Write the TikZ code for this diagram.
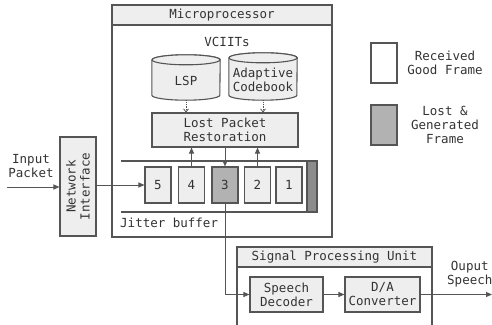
\documentclass[tikz,border=0pt]{standalone}
\usepackage{fontspec}
\setmainfont{DejaVu Sans Mono}
\usetikzlibrary{arrows.meta}
\definecolor{ln}{HTML}{555555}
\definecolor{lite}{HTML}{EEEEEE}
\definecolor{mid}{HTML}{B2B2B2}
\definecolor{darkbar}{HTML}{8C8C8C}
\definecolor{txt}{HTML}{333333}
\begin{document}
\begin{tikzpicture}[x=1pt,y=-1pt,
  font=\fontsize{12.5}{14}\selectfont, text=txt,
  box/.style={draw=ln, line width=1.1pt, fill=lite, align=center, inner sep=0pt},
  fr/.style={box, minimum width=26pt, minimum height=36pt},
  arr/.style={-{Triangle[length=6pt,width=5pt]}, draw=ln, line width=1pt},
  dotarr/.style={-{Straight Barb[length=3pt,width=5pt]}, draw=ln, line width=0.8pt, densely dotted},
  lbl/.style={align=center, inner sep=0pt}]
\useasboundingbox (0,0) rectangle (492,324);
\clip (0,0) rectangle (492,324);

% Microprocessor
\draw[draw=ln, line width=1.1pt, fill=white] (112,5) rectangle (332,237);
\draw[draw=ln, line width=1.1pt, fill=lite] (112,5) rectangle (332,25);
\node[lbl] (mptitle) at (222,15) {Microprocessor};
\node[lbl] (vciits) at (227,42) {VCIITs};

% cylinders
\node[lbl, minimum width=68pt, minimum height=45pt] (lsp) at (186,77.5) {};
\node[lbl, minimum width=68pt, minimum height=47pt] (acb) at (263,76.5) {};
\foreach \c in {lsp,acb}{
  \draw[draw=ln, line width=1.1pt, fill=lite]
    ([yshift=-5pt]\c.north west) -- ([yshift=5pt]\c.south west)
    arc[start angle=180, end angle=360, x radius=34pt, y radius=5pt]
    -- ([yshift=-5pt]\c.north east)
    arc[start angle=0, end angle=180, x radius=34pt, y radius=5pt];
  \draw[draw=ln, line width=1.1pt, fill=lite] ([yshift=-5pt]\c.north) ellipse[x radius=34pt, y radius=5pt];
}
\node[lbl] at ([yshift=-3pt]lsp.center) {LSP};
\node[lbl] at ([yshift=-3pt]acb.center) {Adaptive\\Codebook};

% Lost packet restoration
\node[box, minimum width=146pt, minimum height=34pt] (lpr) at (225,130) {Lost Packet\\Restoration};
\draw[dotarr] (lsp.south) -- (lsp.south |- lpr.north);
\draw[dotarr] (acb.south) -- (acb.south |- lpr.north);

% jitter buffer
\coordinate (jtl) at (121,161);
\coordinate (jbl) at (121,212);
\draw[draw=ln, line width=1.6pt] (jtl) -- (307,161);
\draw[draw=ln, line width=1.6pt] (jbl) -- (307,212);
\draw[draw=ln, line width=1.1pt, fill=darkbar] (307,161) rectangle (317,212);
\node[fr] (f5) at (158,185) {5};
\node[fr] (f4) at (191.5,185) {4};
\node[fr, fill=mid] (f3) at (225,185) {3};
\node[fr] (f2) at (257.5,185) {2};
\node[fr] (f1) at (289,185) {1};
\node[lbl, anchor=west] (jb) at (120,223) {Jitter buffer};

\draw[arr] (f4.north) -- (f4.north |- lpr.south);
\draw[arr] (f2.north) -- (f2.north |- lpr.south);
\draw[arr] (lpr.south -| f3.north) -- (f3.north);

% network interface
\node[box, minimum width=36pt, minimum height=99pt] (ni) at (78,186.5) {};
\node[lbl, rotate=90] at (ni.center) {Network\\Interface};
\coordinate (inp) at (7,187);
\node[lbl] (inlbl) at (31,166) {Input\\Packet};
\draw[arr] (inp) -- (inp -| ni.west);
\draw[arr] (ni.east |- f5.west) -- (f5.west);

% signal processing unit
\draw[draw=ln, line width=1.1pt, fill=white] (237,247) rectangle (432,330);
\draw[draw=ln, line width=1.1pt, fill=lite] (237,247) rectangle (432,267);
\node[lbl] (sputitle) at (334.5,257) {Signal Processing Unit};
\node[box, minimum width=73pt, minimum height=35pt] (dec) at (286.5,294.5) {Speech\\Decoder};
\node[box, minimum width=75pt, minimum height=35pt] (da) at (382.5,294.5) {D/A\\Converter};
\draw[arr] (f3.south) |- (dec.west);
\draw[arr] (dec.east) -- (da.west);
\coordinate (outp) at (492,294.5);
\draw[arr] (da.east) -- (outp);
\node[lbl, anchor=west] (outlbl) at (447,274) {Ouput\\Speech};

% legend
\node[box, fill=white, minimum width=26pt, minimum height=40pt] (lg1) at (384,63) {};
\node[lbl] (lg1t) at (445,63) {Received\\Good Frame};
\node[box, fill=mid, minimum width=26pt, minimum height=40pt] (lg2) at (384,125) {};
\node[lbl] (lg2t) at (445,125) {Lost \&\\Generated\\Frame};
\end{tikzpicture}
\end{document}
